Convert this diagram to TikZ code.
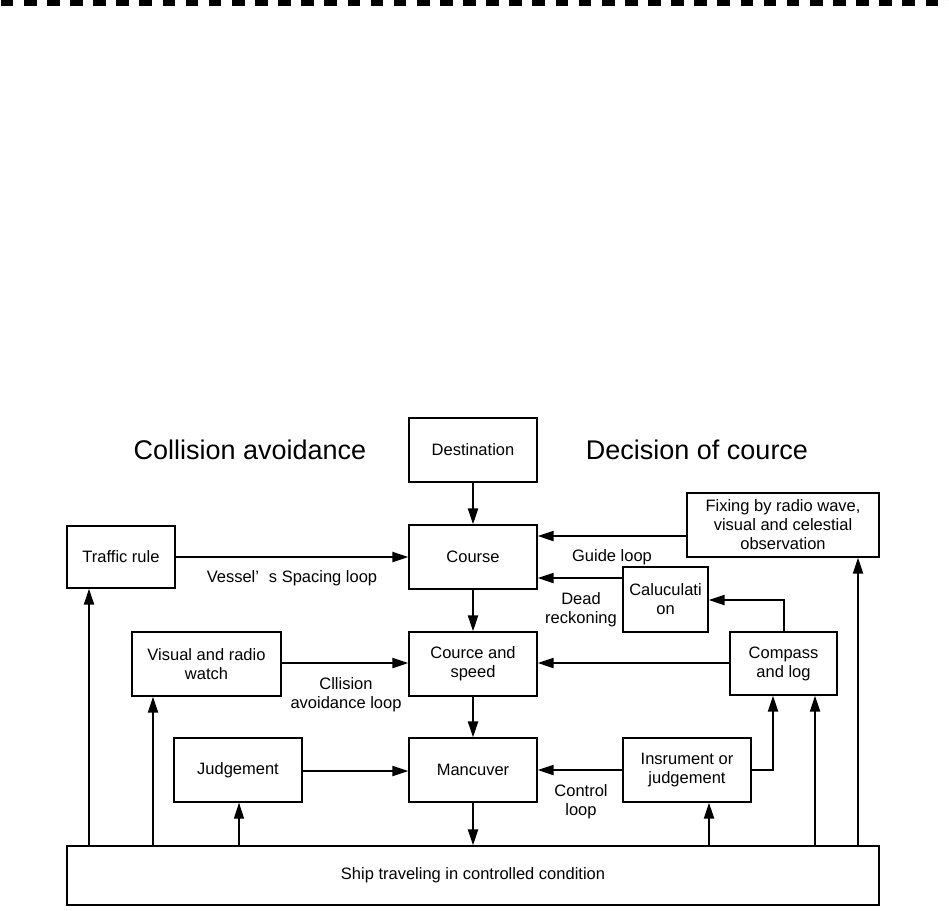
\documentclass[tikz,border=0pt]{standalone}
\usepackage{fontspec}
\setmainfont{Liberation Sans}
\usetikzlibrary{arrows.meta,calc}
\begin{document}
\begin{tikzpicture}[x=1pt,y=-1pt,
  box/.style={draw,line width=1.2pt,inner sep=0pt,align=center,
    font=\fontsize{16.5}{19}\selectfont},
  lbl/.style={align=center,inner sep=0pt,font=\fontsize{16.5}{19}\selectfont},
  ttl/.style={inner sep=0pt,font=\fontsize{27}{32}\selectfont},
  arr/.style={line width=2pt,-{Triangle[length=16pt,width=10pt]}},
  thinarr/.style={line width=1.2pt,-{Triangle[length=16pt,width=10pt]}}]
\useasboundingbox (0,0) rectangle (949,910);
\draw[line width=6pt,dash pattern=on 12.7pt off 10.42pt] (0.7,3) -- (949,3);
% titles
\node[ttl] (t1) at (250,450) {Collision avoidance};
\node[ttl] (t2) at (697,450) {Decision of cource};
% boxes
\node[box,minimum width=128pt,minimum height=64pt] (dest) at (473,450) {Destination};
\node[box,minimum width=128pt,minimum height=64pt] (course) at (473,557) {Course};
\node[box,minimum width=128pt,minimum height=64pt] (cs) at (473,664) {Cource and\\speed};
\node[box,minimum width=128pt,minimum height=64pt] (manc) at (473,770) {Mancuver};
\node[box,minimum width=108pt,minimum height=62pt] (traffic) at (121,557) {Traffic rule};
\node[box,minimum width=149pt,minimum height=64pt] (visual) at (206.5,664) {Visual and radio\\watch};
\node[box,minimum width=128pt,minimum height=64pt] (judg) at (238,770) {Judgement};
\node[box,minimum width=192pt,minimum height=64pt] (fix) at (783,525) {Fixing by radio wave,\\visual and celestial\\observation};
\node[box,minimum width=85pt,minimum height=65pt] (calc) at (665.5,599.5) {Caluculati\\on};
\node[box,minimum width=107pt,minimum height=63pt] (comp) at (783.5,663.5) {Compass\\and log};
\node[box,minimum width=128pt,minimum height=64pt] (instr) at (687,770) {Insrument or\\judgement};
\node[box,minimum width=812pt,minimum height=59pt] (ship) at (473,875.5) {Ship traveling in controlled condition};
% labels
\node[lbl] (l1) at (292,578) {Vessel’\hspace{0.6em}s Spacing loop};
\node[lbl] (l2) at (612,557) {Guide loop};
\node[lbl] (l3) at (581,609.5) {Dead\\reckoning};
\node[lbl] (l4) at (346,695) {Cllision\\avoidance loop};
\node[lbl] (l5) at (581,801.5) {Control\\loop};
% coordinates on ship top
\coordinate (s1) at (89,846);
\coordinate (s2) at (153,846);
\coordinate (s3) at (239,846);
\coordinate (s4) at (709,846);
\coordinate (s5) at (815,846);
\coordinate (s6) at (858,846);
\coordinate (c1) at (773,770);
\coordinate (c2) at (784,600);
% arrows
\draw[arr] (dest.south) -- (course.north);
\draw[arr] (traffic.east) -- (course.west);
\draw[arr] (fix.west |- 0,536) -- (course.east |- 0,536);
\draw[arr] (calc.west |- 0,578) -- (course.east |- 0,578);
\draw[arr] (course.south) -- (cs.north);
\draw[arr] (visual.east |- 0,663) -- (cs.west |- 0,663);
\draw[arr] (comp.west |- 0,663) -- (cs.east |- 0,663);
\draw[arr] (cs.south) -- (manc.north);
\draw[arr] (judg.east |- 0,771) -- (manc.west |- 0,771);
\draw[arr] (instr.west) -- (manc.east);
\draw[arr] (manc.south) -- (ship.north);
\draw[arr] (s1) -- (s1 |- traffic.south);
\draw[arr] (s2) -- (s2 |- visual.south);
\draw[thinarr] (s3) -- (s3 |- judg.south);
\draw[arr] (s4) -- (s4 |- instr.south);
\draw[arr] (instr.east) -- (c1) -- (c1 |- comp.south);
\draw[arr] (s5) -- (s5 |- comp.south);
\draw[arr] (s6) -- (s6 |- fix.south);
\draw[arr] (c2 |- comp.north) -- (c2) -- (calc.east |- c2);
\end{tikzpicture}
\end{document}
